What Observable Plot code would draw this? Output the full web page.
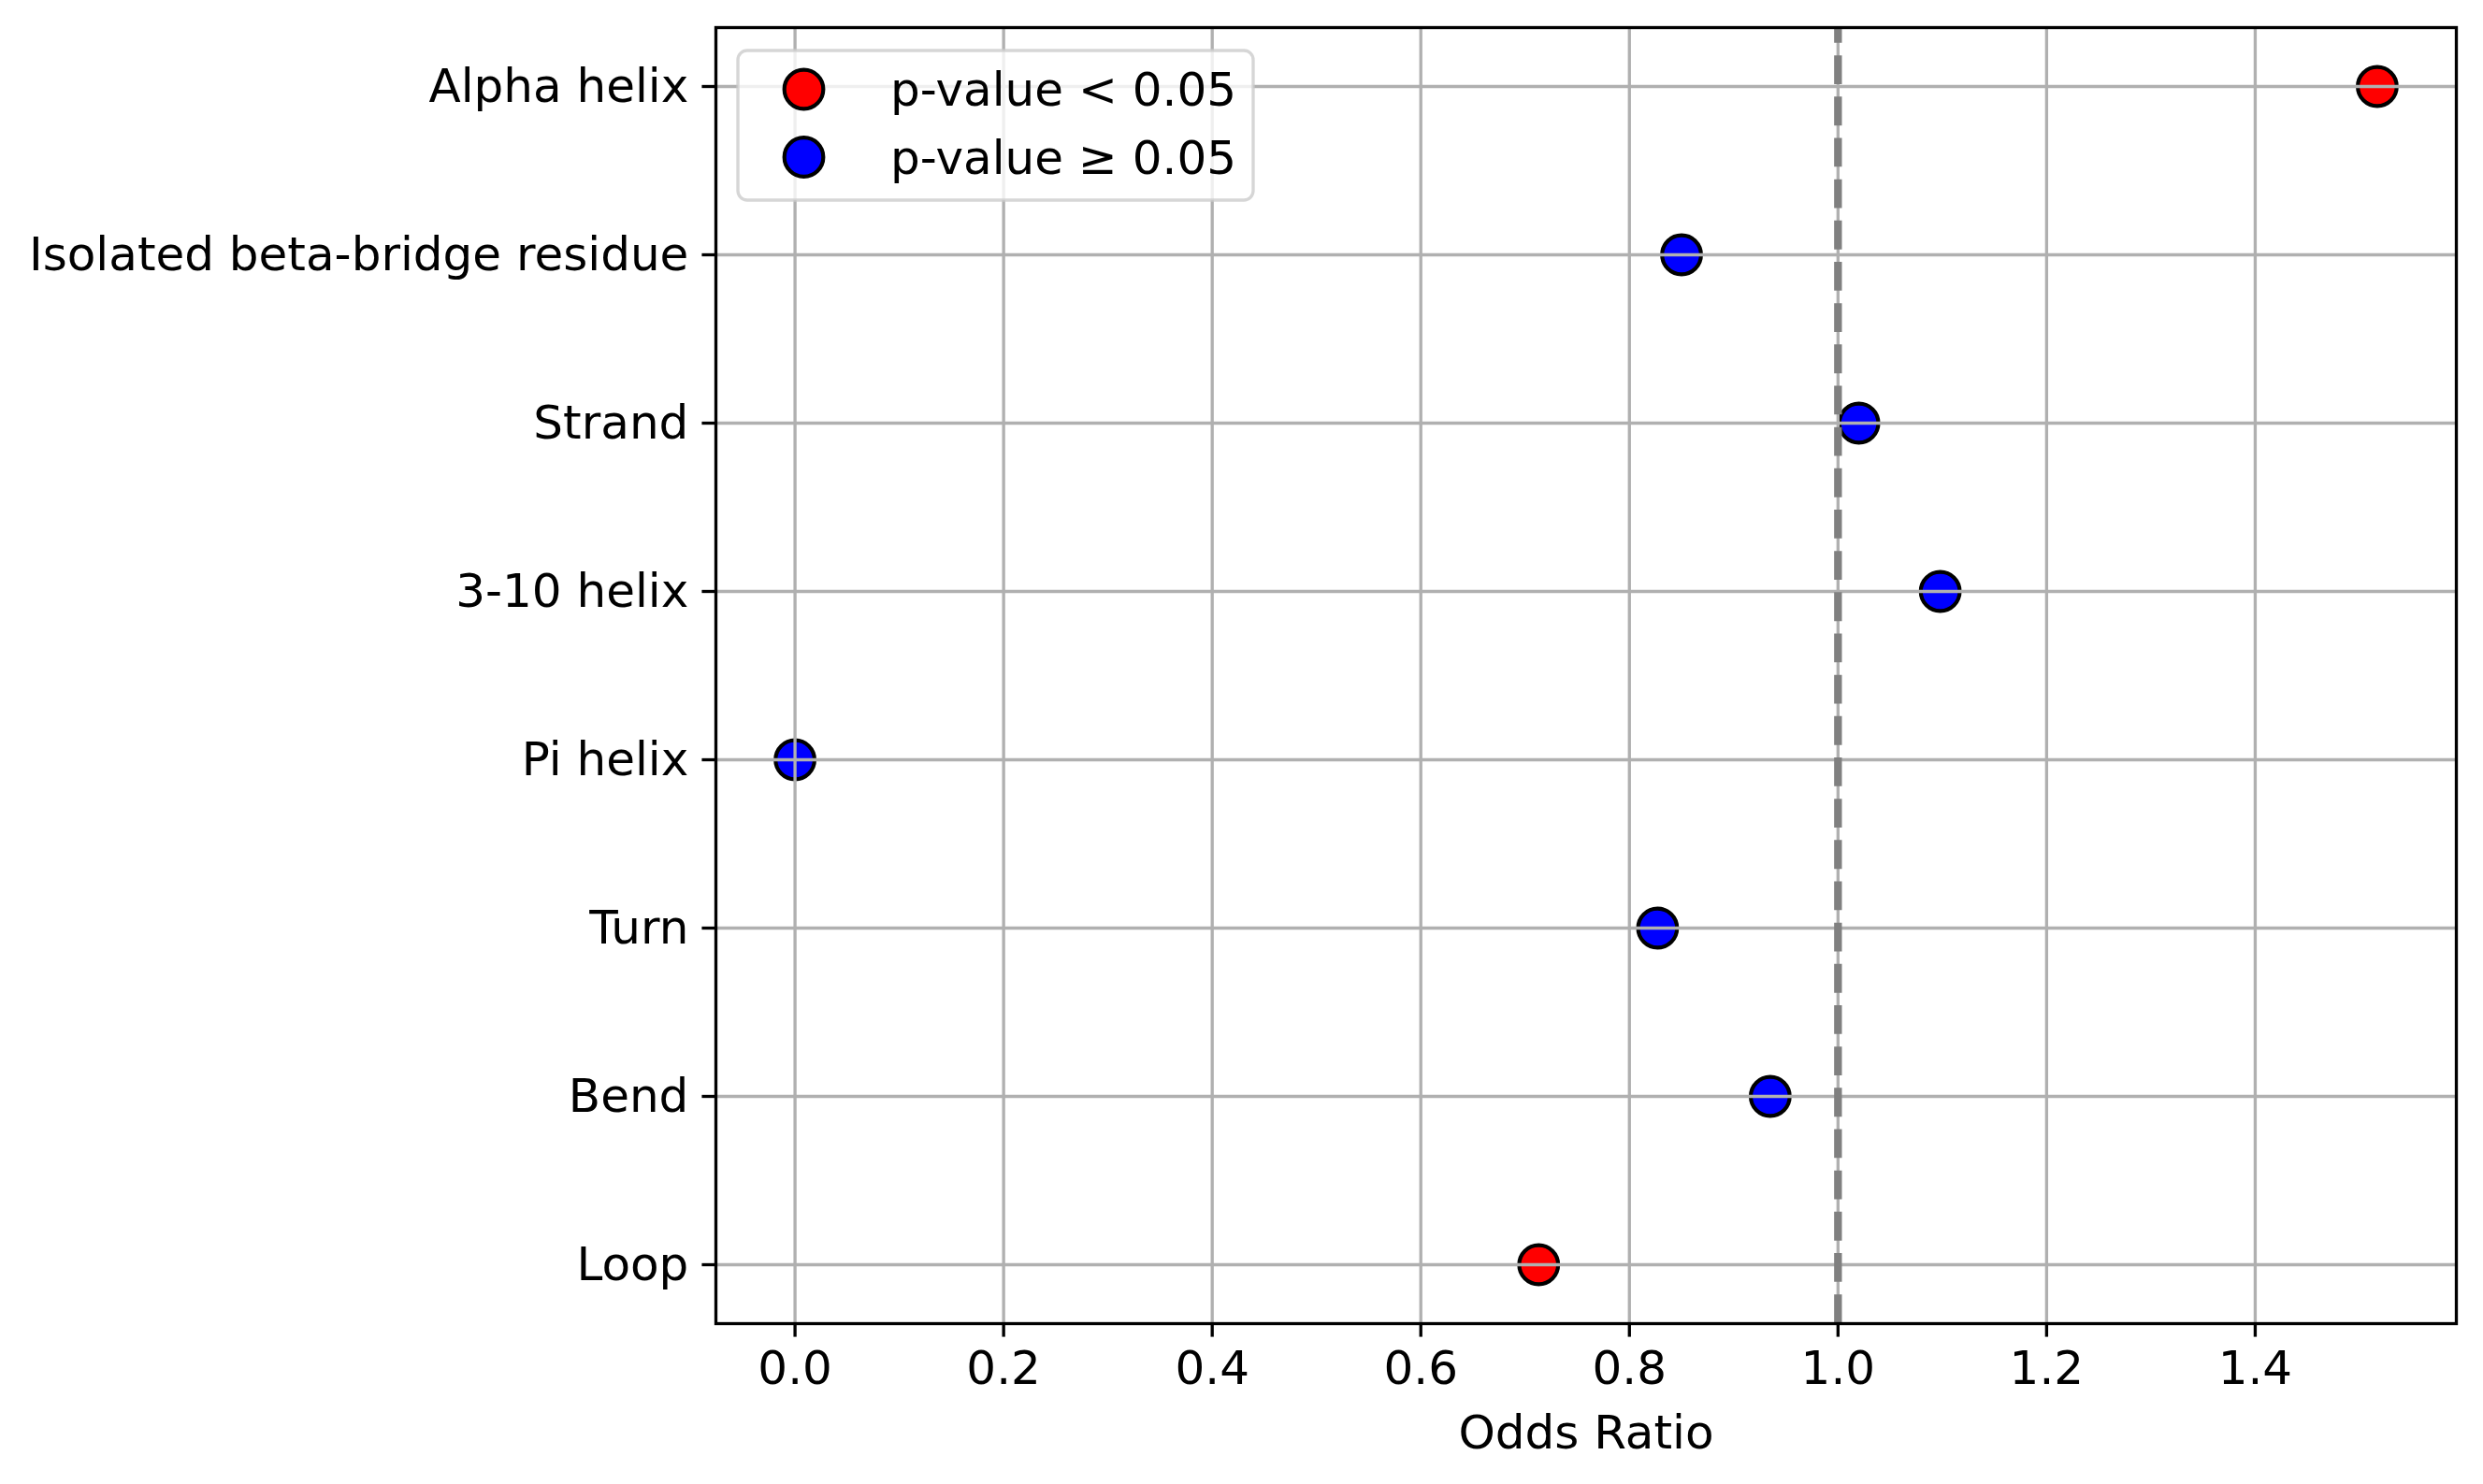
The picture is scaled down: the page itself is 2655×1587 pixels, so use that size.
<!DOCTYPE html>
<html>
<head>
<meta charset="utf-8">
<script src="https://cdn.jsdelivr.net/npm/d3@7"></script>
<script src="https://cdn.jsdelivr.net/npm/@observablehq/plot@0.6"></script>
<style>
  html, body { margin: 0; padding: 0; background: white; }
  #chart { width: 2655px; height: 1587px; }
</style>
</head>
<body>
<div id="chart"></div>
<script>
// ---- data ----
const categories = ["Alpha helix", "Isolated beta-bridge residue", "Strand", "3-10 helix", "Pi helix", "Turn", "Bend", "Loop"];
const oddsRatios = [1.517, 0.850, 1.020, 1.098, 0.0, 0.827, 0.935, 0.713];
const pGroups = ["p-value < 0.05", "p-value ≥ 0.05", "p-value ≥ 0.05", "p-value ≥ 0.05", "p-value ≥ 0.05", "p-value ≥ 0.05", "p-value ≥ 0.05", "p-value < 0.05"];
const legendLabels = ["p-value < 0.05", "p-value ≥ 0.05"];
const legendColors = ["#ff0000", "#0000ff"];
const xTicks = [0.0, 0.2, 0.4, 0.6, 0.8, 1.0, 1.2, 1.4];
const referenceLine = [1.0];

const rows = categories.map((c, i) => ({category: c, or: oddsRatios[i], group: pGroups[i]}));

// ---- layout (matplotlib-like, 300 dpi) ----
const W = 2655, H = 1587;
const mL = 765, mR = 29, mT = 29, mB = 172;
const pt = 300 / 72;
const xmax = d3.max(oddsRatios), xmin = d3.min(oddsRatios);
const pad = 0.05 * (xmax - xmin);

const dashLen = 3.7 * 2 * pt, gapLen = 1.6 * 2 * pt;
const frameH = H - mT - mB;
const period = dashLen + gapLen;
const dashOffset = dashLen - (frameH % period);

const chart = Plot.plot({
  width: W,
  height: H,
  marginLeft: mL,
  marginRight: mR,
  marginTop: mT,
  marginBottom: mB,
  style: {fontFamily: "DejaVu Sans", fontSize: "50px", background: "white", color: "black"},
  x: {domain: [xmin - pad, xmax + pad]},
  y: {type: "point", domain: categories, padding: 0.35},
  color: {domain: legendLabels, range: legendColors},
  marks: [
    Plot.dot(rows, {x: "or", y: "category", fill: "group", stroke: "black", strokeWidth: 1 * pt, r: 5 * pt}),
    Plot.gridX(xTicks, {stroke: "#b0b0b0", strokeOpacity: 1, strokeWidth: 0.8 * pt}),
    Plot.gridY(categories, {stroke: "#b0b0b0", strokeOpacity: 1, strokeWidth: 0.8 * pt}),
    Plot.ruleX(referenceLine, {stroke: "#808080", strokeWidth: 2 * pt, strokeDasharray: `${dashLen},${gapLen}`, strokeDashoffset: dashOffset}),
    Plot.frame({stroke: "black", strokeWidth: 0.8 * pt}),
    Plot.axisX({
      ticks: xTicks,
      tickFormat: d3.format(".1f"),
      tickSize: 3.5 * pt,
      tickPadding: 3.5 * pt,
      strokeWidth: 0.8 * pt,
      fontSize: 50,
      label: "Odds Ratio",
      labelAnchor: "center",
      labelArrow: "none",
      labelOffset: 133
    }),
    Plot.axisY({
      tickSize: 3.5 * pt,
      tickPadding: 3.5 * pt,
      strokeWidth: 0.8 * pt,
      fontSize: 50,
      label: null
    })
  ]
});

document.getElementById("chart").appendChild(chart);

// ---- legend (matplotlib style, upper left inside axes) ----
const svg = d3.select(chart);
const lg = svg.append("g")
  .attr("font-family", "DejaVu Sans")
  .attr("font-size", 50)
  .attr("text-anchor", "start");
const boxX = mL + 24, boxY = mT + 25, boxW = 551, boxH = 160;
lg.append("rect")
  .attr("x", boxX).attr("y", boxY).attr("width", boxW).attr("height", boxH)
  .attr("rx", 10).attr("ry", 10)
  .attr("fill", "white").attr("fill-opacity", 0.8)
  .attr("stroke", "#cccccc").attr("stroke-opacity", 0.8).attr("stroke-width", 0.8 * pt);
legendLabels.forEach((lab, i) => {
  const cy = boxY + 41.5 + i * 72.5;
  lg.append("circle")
    .attr("cx", boxX + 70.5).attr("cy", cy).attr("r", 5 * pt)
    .attr("fill", legendColors[i]).attr("stroke", "black").attr("stroke-width", 1 * pt);
  lg.append("text")
    .attr("x", boxX + 163).attr("y", cy + 17.5)
    .attr("text-anchor", "start")
    .attr("fill", "black")
    .text(lab);
});
</script>
</body>
</html>
